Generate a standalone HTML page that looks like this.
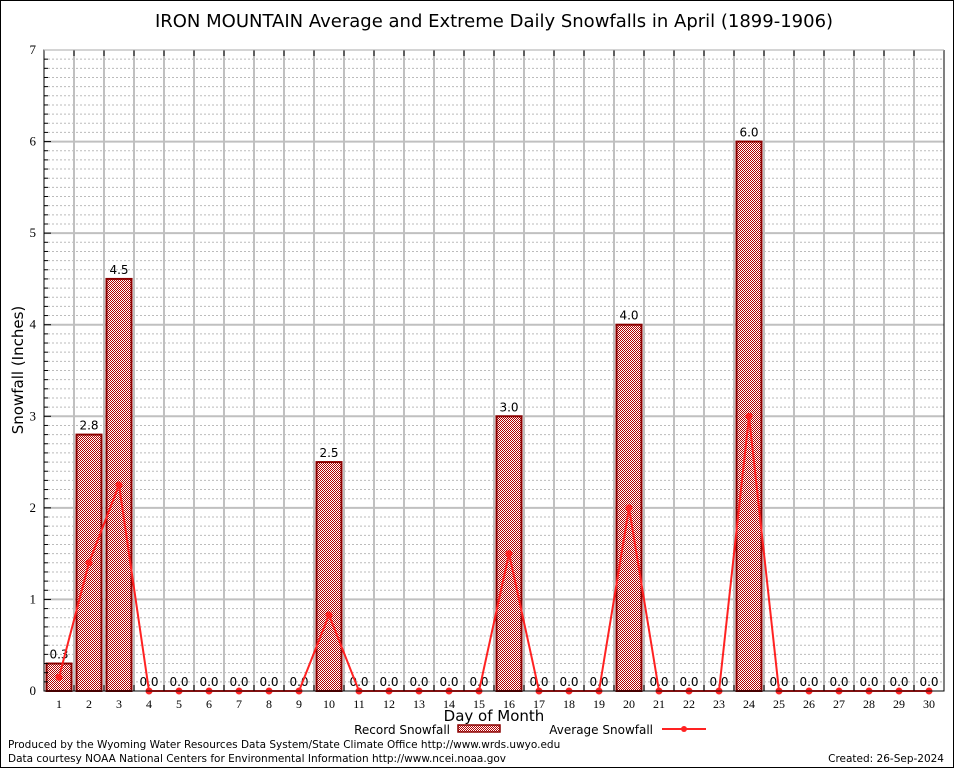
<!DOCTYPE html>
<html><head><meta charset="utf-8"><style>
body{margin:0;background:#fff}
svg{display:block;font-family:"DejaVu Sans","Liberation Sans",sans-serif}
</style></head><body>
<svg id="c" width="954" height="768">
<defs>
<pattern id="pat" width="2" height="2" patternUnits="userSpaceOnUse">
<rect width="2" height="2" fill="#fff"/><rect width="1" height="1" fill="#b00000"/><rect x="1" y="1" width="1" height="1" fill="#b00000"/>
</pattern>
</defs>
<rect x="0.5" y="0.5" width="953" height="767" fill="#fff" stroke="#000"/>
<g id="grid"></g>
<g id="bars"></g>
<g id="line"></g>
<g id="axes"></g>
<text x="494" y="27" font-size="18" text-anchor="middle">IRON MOUNTAIN Average and Extreme Daily Snowfalls in April (1899-1906)</text>
<text x="23" y="370" font-size="15" text-anchor="middle" transform="rotate(-90 23 370)">Snowfall (Inches)</text>
<text x="494" y="721" font-size="15" text-anchor="middle">Day of Month</text>
<g>
<text x="450" y="734" font-size="12" text-anchor="end">Record Snowfall</text>
<rect x="458" y="725" width="42" height="7" fill="url(#pat)" stroke="#8b0000" stroke-width="1.5"/>
</g>
<g>
<text x="653" y="734" font-size="12" text-anchor="end">Average Snowfall</text>
<line x1="662" y1="729" x2="706" y2="729" stroke="#f22" stroke-width="2"/>
<circle cx="684" cy="729" r="3" fill="#f22"/>
</g>
<text x="8" y="748" font-size="10.5">Produced by the Wyoming Water Resources Data System/State Climate Office http://www.wrds.uwyo.edu</text>
<text x="8" y="762" font-size="10.5">Data courtesy NOAA National Centers for Environmental Information http://www.ncei.noaa.gov</text>
<text x="944" y="762" font-size="10.5" text-anchor="end">Created: 26-Sep-2024</text>
</svg>
<script>
const days=[1,2,3,4,5,6,7,8,9,10,11,12,13,14,15,16,17,18,19,20,21,22,23,24,25,26,27,28,29,30];
const recordSnow=[0.3,2.8,4.5,0,0,0,0,0,0,2.5,0,0,0,0,0,3.0,0,0,0,4.0,0,0,0,6.0,0,0,0,0,0,0];
const avgSnow=[0.15,1.4,2.25,0,0,0,0,0,0,0.83,0,0,0,0,0,1.5,0,0,0,2.0,0,0,0,3.0,0,0,0,0,0,0];
const yTicks=[0,1,2,3,4,5,6,7];
const yTickLabels=["0","1","2","3","4","5","6","7"];
const L=44,R=944,T=50,B=691,YMAX=7;
const x=d=>L+(d-0.5)*(R-L)/days.length;
const y=v=>B-v*(B-T)/YMAX;
const NS="http://www.w3.org/2000/svg";
function mk(p,t,a){const e=document.createElementNS(NS,t);for(const k in a)e.setAttribute(k,a[k]);p.appendChild(e);return e;}
const grid=document.getElementById('grid'),bars=document.getElementById('bars'),line=document.getElementById('line'),axes=document.getElementById('axes');
for(let i=1;i<YMAX*10;i++){if(i%10===0)continue;const g=mk(grid,'line',{x1:L,x2:R,y1:y(i/10),y2:y(i/10),stroke:'#bbb','stroke-dasharray':'2,2','stroke-width':1});


const k=mk(axes,'line',{x1:L,x2:L+4,y1:y(i/10),y2:y(i/10),stroke:'#000'});

}
yTicks.forEach((v,i)=>{if(v>0&&v<YMAX){const g=mk(grid,'line',{x1:L,x2:R,y1:y(v),y2:y(v),stroke:'#c0c0c0','stroke-width':2});

}
const t=mk(axes,'text',{x:L-8,y:y(v)+4,'font-size':13,'text-anchor':'end','font-family':'Liberation Serif, serif'});t.textContent=yTickLabels[i];


const k=mk(axes,'line',{x1:L,x2:L+7,y1:y(v),y2:y(v),stroke:'#000'});

});
for(let i=1;i<days.length;i++){const xx=x(days[i])-(R-L)/days.length/2;const g=mk(grid,'line',{x1:xx,x2:xx,y1:T,y2:B,stroke:'#c0c0c0','stroke-width':2});


const k=mk(axes,'line',{x1:xx,x2:xx,y1:B,y2:B-6,stroke:'#000'});


const k2=mk(axes,'line',{x1:xx,x2:xx,y1:T,y2:T+6,stroke:'#000'});

}
const bw=25;
days.forEach((d,i)=>{const v=recordSnow[i];
if(v>0){const r=mk(bars,'rect',{x:x(d)-bw/2,y:y(v),width:bw,height:B-y(v),fill:'url(#pat)',stroke:'#8b0000','stroke-width':2});

}
const t=mk(bars,'text',{x:x(d),y:y(v)-5,'font-size':12,'text-anchor':'middle'});t.textContent=v.toFixed(1);


const xl=mk(axes,'text',{x:x(d),y:B+17,'font-size':12,'text-anchor':'middle','font-family':'Liberation Serif, serif'});xl.textContent=d;

});
const pl=mk(line,'polyline',{points:days.map((d,i)=>x(d)+','+y(avgSnow[i])).join(' '),fill:'none',stroke:'#f22','stroke-width':2});


days.forEach((d,i)=>{const c=mk(line,'circle',{cx:x(d),cy:y(avgSnow[i]),r:3.5,fill:'#f22'});

});
const fr=mk(axes,'path',{d:`M${R},${T} H${L} V${B} H${R} V${T}`,fill:'none',stroke:'#000','stroke-width':1});


const tp=mk(axes,'line',{x1:L,x2:R,y1:T,y2:T,stroke:'#aaa','stroke-width':1});


</script>
</body></html>
